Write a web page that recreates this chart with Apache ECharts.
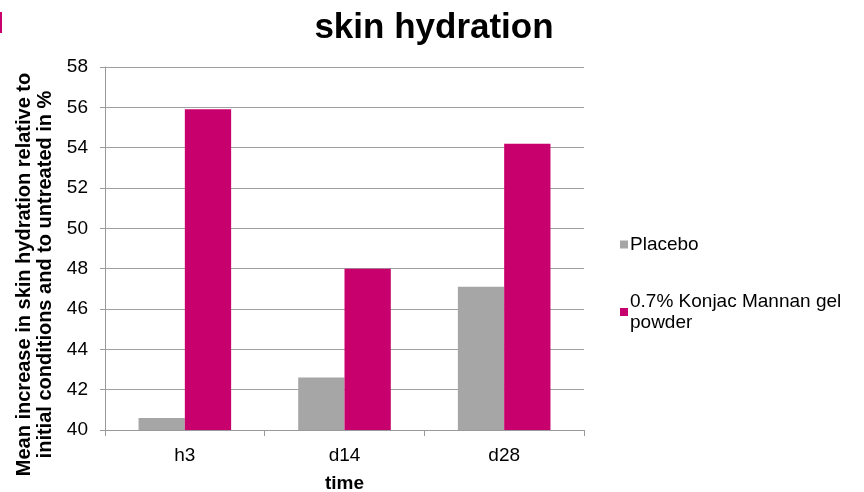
<!DOCTYPE html>
<html><head><meta charset="utf-8">
<script src="https://cdn.jsdelivr.net/npm/echarts@6/dist/echarts.min.js"></script>
<style>html,body{margin:0;padding:0;background:#fff}#c{width:864px;height:492px}</style>
</head><body><div id="c"></div>
<script>
var categories = ['h3', 'd14', 'd28'];
var placebo = [40.6, 42.6, 47.1];
var konjac = [55.9, 48.0, 54.2];
var seriesNames = ['Placebo', '0.7% Konjac Mannan gel\npowder'];
var yMin = 40, yMax = 58, yStep = 2;

var chart = echarts.init(document.getElementById('c'));
var font = 'Liberation Sans, Arial, sans-serif';
chart.setOption({
  animation: false,
  backgroundColor: '#fff',
  title: {
    text: 'skin hydration', left: 429, top: 6, textAlign: 'center',
    textStyle: {fontFamily: font, fontSize: 35, fontWeight: 'bold', color: '#000'}
  },
  graphic: [{type: 'rect', shape: {x: 0, y: 12, width: 2, height: 21}, style: {fill: '#C8006E'}}],
  legend: {
    orient: 'vertical', left: 615, top: 229, itemGap: 36,
    itemWidth: 8, itemHeight: 8, icon: 'rect',
    textStyle: {fontFamily: font, fontSize: 19, color: '#000', lineHeight: 21, padding: [0, 0, 0, -3]},
    data: seriesNames
  },
  grid: {left: 105, right: 280, top: 67, bottom: 62, outerBoundsMode: 'none', containLabel: false},
  xAxis: {
    type: 'category', data: categories,
    name: 'time', nameLocation: 'middle', nameGap: 44,
    nameTextStyle: {fontFamily: font, fontSize: 19, fontWeight: 'bold', color: '#000'},
    axisLine: {lineStyle: {color: '#9a9a9a', width: 1}},
    axisTick: {show: true, length: 6, lineStyle: {color: '#9a9a9a'}},
    axisLabel: {fontFamily: font, fontSize: 19, color: '#000', margin: 16}
  },
  yAxis: {
    type: 'value', min: yMin, max: yMax, interval: yStep,
    name: 'Mean increase in skin hydration relative to\ninitial conditions and to untreated in %',
    nameLocation: 'middle', nameGap: 45,
    nameTextStyle: {fontFamily: font, fontSize: 20, fontWeight: 'bold', color: '#000', lineHeight: 21,
                    padding: [0, 52, 0, 0]},
    axisLine: {show: true, lineStyle: {color: '#9a9a9a', width: 1}},
    axisTick: {show: true, length: 5, lineStyle: {color: '#9a9a9a'}},
    axisLabel: {fontFamily: font, fontSize: 19, color: '#000', margin: 17},
    splitLine: {lineStyle: {color: '#a0a0a0', width: 1}}
  },
  series: [
    {name: seriesNames[0], type: 'bar', data: placebo, barGap: '0%', barCategoryGap: '42%',
     itemStyle: {color: '#A6A6A6'}},
    {name: seriesNames[1], type: 'bar', data: konjac, barGap: '0%', barCategoryGap: '42%',
     itemStyle: {color: '#C8006E'}}
  ]
});
</script></body></html>
